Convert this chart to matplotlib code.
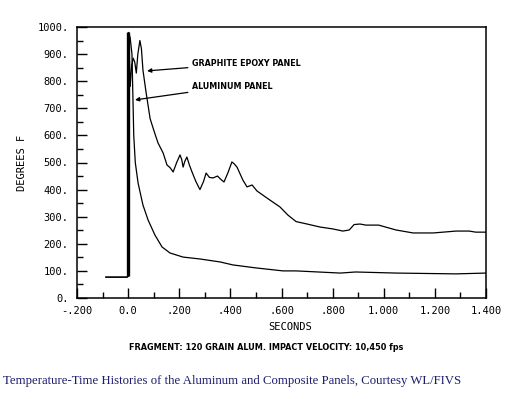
import matplotlib
matplotlib.use("Agg")
import matplotlib.pyplot as plt
from matplotlib.ticker import MultipleLocator, FixedLocator
from matplotlib import font_manager

# ---- data ----
graphite_x = [-0.087, -0.004, 0.0, 0.003, 0.008, 0.014, 0.02, 0.026, 0.032, 0.038,
              0.046, 0.052, 0.058, 0.07, 0.086, 0.1, 0.117, 0.137, 0.152, 0.165,
              0.176, 0.19, 0.203, 0.21, 0.215, 0.222, 0.23, 0.24, 0.25, 0.265,
              0.281, 0.295, 0.305, 0.318, 0.332, 0.35, 0.36, 0.375, 0.39, 0.406,
              0.415, 0.426, 0.449, 0.465, 0.485, 0.504, 0.543, 0.594, 0.625, 0.657,
              0.70, 0.75, 0.80, 0.84, 0.865, 0.884, 0.907, 0.93, 0.98, 1.048,
              1.115, 1.193, 1.232, 1.283, 1.334, 1.36, 1.40]
graphite_y = [77, 77, 80, 960, 780, 860, 885, 870, 830, 900,
              950, 920, 841, 760, 662, 620, 572, 535, 491, 480,
              465, 500, 528, 510, 483, 505, 520, 490, 465, 430,
              400, 430, 461, 445, 443, 450, 440, 428, 461, 502,
              495, 483, 435, 410, 417, 395, 369, 336, 306, 282,
              273, 262, 255, 247, 251, 271, 273, 269, 269, 251,
              240, 240, 243, 247, 247, 243, 243]

aluminum_x = [-0.087, -0.004, 0.0, 0.002, 0.008, 0.015, 0.019, 0.022, 0.028, 0.039,
              0.058, 0.078, 0.105, 0.133, 0.164, 0.215, 0.281, 0.36, 0.41, 0.50,
              0.606, 0.657, 0.83, 0.89, 1.048, 1.283, 1.40]
aluminum_y = [77, 77, 80, 980, 960, 900, 730, 600, 500, 424,
              343, 288, 232, 188, 166, 151, 144, 133, 122, 111,
              100, 100, 92, 96, 92, 89, 92]

spike_x = [0.0, 0.0]
spike_y = [80, 980]

x_ticks = [-0.2, 0.0, 0.2, 0.4, 0.6, 0.8, 1.0, 1.2, 1.4]
x_tick_labels = ["-.200", "0.0", ".200", ".400", ".600", ".800", "1.000", "1.200", "1.400"]
y_ticks = [0, 100, 200, 300, 400, 500, 600, 700, 800, 900, 1000]
y_tick_labels = ["0.", "100.", "200.", "300.", "400.", "500.", "600.", "700.",
                 "800.", "900.", "1000."]

labels = ["GRAPHITE EPOXY PANEL", "ALUMINUM PANEL"]
xlabel = "SECONDS"
ylabel = "DEGREES F"
subtitle = "FRAGMENT: 120 GRAIN ALUM. IMPACT VELOCITY: 10,450 fps"
caption = "Temperature-Time Histories of the Aluminum and Composite Panels, Courtesy WL/FIVS"

# ---- figure ----
fig = plt.figure(figsize=(5.16, 3.99), dpi=100)
ax = fig.add_axes([77/516, 1-298/399, (486-77)/516, (298-27)/399])

ax.plot(graphite_x, graphite_y, color="black", lw=0.9)
ax.plot(aluminum_x, aluminum_y, color="black", lw=0.9)
ax.plot(spike_x, spike_y, color="black", lw=2.4, solid_capstyle="butt")

ax.set_xlim(-0.2, 1.4)
ax.set_ylim(0, 1000)

mono = ["DejaVu Sans Mono"]
cond = font_manager.FontProperties(family="DejaVu Sans", stretch="condensed",
                                   weight="bold", size=6.4)
cond_sub = font_manager.FontProperties(family="DejaVu Sans", stretch="condensed",
                                       weight="bold", size=6.5)

ax.xaxis.set_major_locator(FixedLocator(x_ticks))
ax.set_xticklabels(x_tick_labels, fontfamily=mono, fontsize=7.5)
ax.xaxis.set_minor_locator(MultipleLocator(0.1))
ax.yaxis.set_major_locator(FixedLocator(y_ticks))
ax.set_yticklabels(y_tick_labels, fontfamily=mono, fontsize=7.5)
ax.yaxis.set_minor_locator(MultipleLocator(50))

ax.tick_params(which="major", direction="in", length=7, width=1.0, pad=6,
               top=False, right=False)
ax.tick_params(which="minor", direction="in", length=4, width=1.0,
               top=False, right=False)
for s in ax.spines.values():
    s.set_linewidth(1.1)

ax.set_xlabel(xlabel, fontfamily=mono, fontsize=7.5)
ax.xaxis.set_label_coords(0.52, -0.09)
ax.set_ylabel(ylabel, fontfamily=mono, fontsize=7.5)
ax.yaxis.set_label_coords(-0.122, 0.5)

# annotations
ax.annotate(labels[0], xy=(0.074, 838), xytext=(0.25, 867),
            fontproperties=cond, va="center", ha="left",
            arrowprops=dict(arrowstyle="-|>", color="black", lw=0.9,
                            mutation_scale=6, shrinkA=1, shrinkB=0))
ax.annotate(labels[1], xy=(0.027, 731), xytext=(0.25, 782),
            fontproperties=cond, va="center", ha="left",
            arrowprops=dict(arrowstyle="-|>", color="black", lw=0.9,
                            mutation_scale=6, shrinkA=1, shrinkB=0))

fig.text(266/516, 1-348/399, subtitle, fontproperties=cond_sub,
         ha="center", va="center")
fig.text(3/516, 1-381/399, caption, fontfamily=["Liberation Serif"],
         fontsize=9.15, color="#1c1c6e", ha="left", va="center")

fig.savefig("out.png", dpi=100)
